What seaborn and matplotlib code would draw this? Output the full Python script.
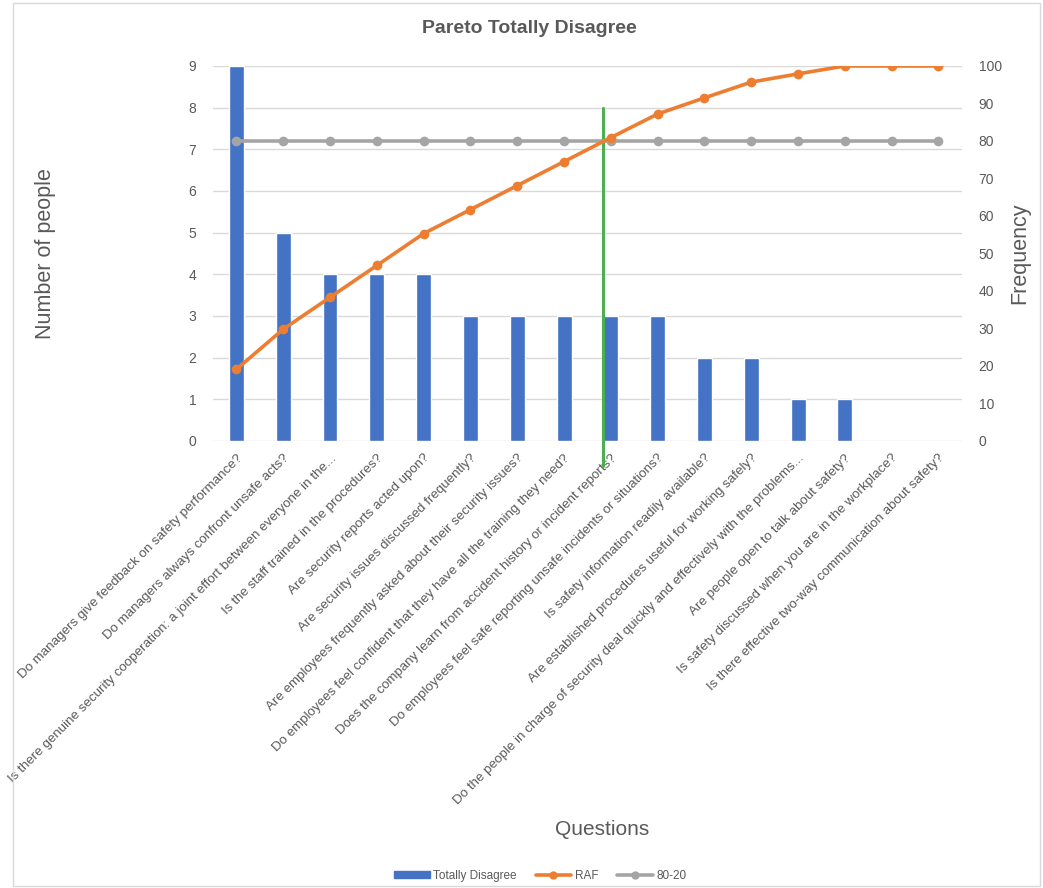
import numpy as np
import pandas as pd
import matplotlib
matplotlib.use("Agg")
import matplotlib.pyplot as plt
import seaborn as sns
from matplotlib.lines import Line2D
from matplotlib.patches import Patch, Rectangle

# Data #
questions = [
    "Do managers give feedback on safety performance?",
    "Do managers always confront unsafe acts?",
    "Is there genuine security cooperation: a joint effort between everyone in the...",
    "Is the staff trained in the procedures?",
    "Are security reports acted upon?",
    "Are security issues discussed frequently?",
    "Are employees frequently asked about their security issues?",
    "Do employees feel confident that they have all the training they need?",
    "Does the company learn from accident history or incident reports?",
    "Do employees feel safe reporting unsafe incidents or situations?",
    "Is safety information readily available?",
    "Are established procedures useful for working safely?",
    "Do the people in charge of security deal quickly and effectively with the problems...",
    "Are people open to talk about safety?",
    "Is safety discussed when you are in the workplace?",
    "Is there effective two-way communication about safety?",
]
totally_disagree = [9, 5, 4, 4, 4, 3, 3, 3, 3, 3, 2, 2, 1, 1, 0, 0]
raf = [19.1, 29.8, 38.3, 46.8, 55.3, 61.7, 68.1, 74.5, 80.9, 87.2, 91.5, 95.7, 97.9, 100, 100, 100]
eighty_twenty = [80] * 16
cut_position = 7.83   # where the green 80% marker sits
cut_top = 8

df = pd.DataFrame({"question": questions, "count": totally_disagree,
                   "raf": raf, "ref": eighty_twenty})
df["pos"] = np.arange(len(df))

sns.set_theme(style="white")
plt.rcParams["font.family"] = ["Liberation Sans", "DejaVu Sans"]
txt = "#595959"

fig = plt.figure(figsize=(10.43, 8.88), dpi=100)
ax = fig.add_axes([0.2042, 0.5034, 0.718, 0.4223])

sns.barplot(data=df, x="question", y="count", color="#4472C4", width=0.32,
            saturation=1, ax=ax, zorder=2)
ax.set_ylim(0, 9)
ax.set_xlim(-0.5, 15.5)
ax.set_yticks(range(0, 10))
ax.yaxis.grid(True, color="#D9D9D9", linewidth=1)
ax.set_axisbelow(True)
for s in ax.spines.values():
    s.set_visible(False)
ax.tick_params(axis="y", length=0, labelsize=10, colors=txt, pad=12)
ax.tick_params(axis="x", length=0, pad=8)
ax.set_xticks(df["pos"])
ax.set_xticklabels(questions, rotation=45, ha="right", rotation_mode="anchor",
                   fontsize=9.6, color=txt)
ax.set_xlabel("Questions", fontsize=15, color=txt)
ax.xaxis.set_label_coords(0.52, -1.01)
ax.set_ylabel("Number of people", fontsize=15.5, color=txt)
ax.yaxis.set_label_coords(-0.21, 0.5)

ax2 = ax.twinx()
sns.lineplot(data=df, x="pos", y="ref", color="#A5A5A5", linewidth=2.6,
             marker="o", markersize=7, markeredgewidth=0, ax=ax2)
sns.lineplot(data=df, x="pos", y="raf", color="#ED7D31", linewidth=2.6,
             marker="o", markersize=7, markeredgewidth=0, ax=ax2)
ax2.set_ylim(0, 100)
ax2.set_yticks(range(0, 101, 10))
ax2.set_xlim(-0.5, 15.5)
for s in ax2.spines.values():
    s.set_visible(False)
ax2.tick_params(axis="y", length=0, labelsize=10, colors=txt, pad=12)
ax2.set_ylabel("Frequency", fontsize=15.5, color=txt, rotation=90, va="center")
ax2.yaxis.set_label_coords(1.077, 0.5)
ax2.set_xlabel("")

# green cut-off line
ax.plot([cut_position, cut_position], [-0.6, cut_top], color="#4CAF50",
        linewidth=2.2, clip_on=False, zorder=5)

fig.suptitle("Pareto Totally Disagree", x=0.508, y=0.977, fontsize=14,
             fontweight="bold", color=txt)

handles = [Patch(color="#4472C4", label="Totally Disagree"),
           Line2D([], [], color="#ED7D31", lw=2.6, marker="o", ms=6, mew=0, label="RAF"),
           Line2D([], [], color="#A5A5A5", lw=2.6, marker="o", ms=6, mew=0, label="80-20")]
leg = fig.legend(handles=handles, loc="center", bbox_to_anchor=(0.518, 0.014),
                 ncol=3, frameon=False, fontsize=8.5, handlelength=3,
                 handleheight=0.6, columnspacing=1.6, handletextpad=0.3)
for t in leg.get_texts():
    t.set_color(txt)

fig.add_artist(Rectangle((0.012, 0.002), 0.985, 0.995, transform=fig.transFigure,
                         fill=False, edgecolor="#D9D9D9", linewidth=1))

fig.savefig("out.png", dpi=100)
